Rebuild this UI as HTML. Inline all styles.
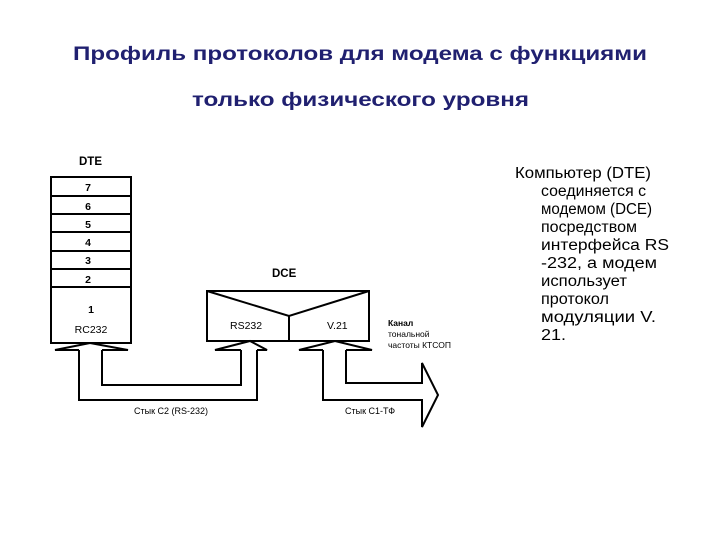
<!DOCTYPE html>
<html><head><meta charset="utf-8"><style>
html,body{margin:0;padding:0;background:#fff;}
svg{display:block}
</style></head><body>
<svg width="720" height="540" xmlns="http://www.w3.org/2000/svg" font-family="Liberation Sans, sans-serif">
<g fill="#202070" font-weight="bold" font-size="19">
<text x="73" y="60" textLength="574" lengthAdjust="spacingAndGlyphs">Профиль протоколов для модема с функциями</text>
<text x="192" y="106" textLength="337" lengthAdjust="spacingAndGlyphs">только физического уровня</text>
</g>
<g fill="#000" font-size="15.5">
<text x="515" y="178" textLength="136" lengthAdjust="spacingAndGlyphs">Компьютер (DTE)</text>
<text x="541" y="196" textLength="105" lengthAdjust="spacingAndGlyphs">соединяется с</text>
<text x="541" y="214" textLength="111" lengthAdjust="spacingAndGlyphs">модемом (DCE)</text>
<text x="541" y="232" textLength="96" lengthAdjust="spacingAndGlyphs">посредством</text>
<text x="541" y="250" textLength="128" lengthAdjust="spacingAndGlyphs">интерфейса RS</text>
<text x="541" y="268" textLength="116" lengthAdjust="spacingAndGlyphs">-232, а модем</text>
<text x="541" y="286" textLength="86" lengthAdjust="spacingAndGlyphs">использует</text>
<text x="541" y="304" textLength="68" lengthAdjust="spacingAndGlyphs">протокол</text>
<text x="541" y="322" textLength="115" lengthAdjust="spacingAndGlyphs">модуляции V.</text>
<text x="541" y="340" textLength="25" lengthAdjust="spacingAndGlyphs">21.</text>
</g>
<g fill="none" stroke="#000" stroke-width="2">
<rect x="51" y="177" width="80" height="166"/>
<line x1="51" y1="196" x2="131" y2="196"/>
<line x1="51" y1="214" x2="131" y2="214"/>
<line x1="51" y1="232" x2="131" y2="232"/>
<line x1="51" y1="251" x2="131" y2="251"/>
<line x1="51" y1="269" x2="131" y2="269"/>
<line x1="51" y1="287" x2="131" y2="287"/>
<rect x="207" y="291" width="162" height="50"/>
<polyline points="207,291 289,316 369,291"/>
<line x1="289" y1="316" x2="289" y2="341"/>
<polyline points="79,350 55,350 90,343 128,350 102,350"/>
<polyline points="241,350 215,350 250,341 267,350 257,350"/>
<polyline points="323,350 299,350 335,341 372,350 346,350"/>
<polyline points="79,350 79,400 257,400 257,350"/>
<polyline points="102,350 102,385 241,385 241,350"/>
<polyline points="323,350 323,400 422,400 422,427 438,395 422,363 422,383 346,383 346,350"/>
</g>
<g fill="#000" font-weight="bold" font-size="10.5">
<text x="79" y="165" font-size="11.5">DTE</text>
<text x="88" y="191" text-anchor="middle">7</text>
<text x="88" y="210" text-anchor="middle">6</text>
<text x="88" y="228" text-anchor="middle">5</text>
<text x="88" y="246" text-anchor="middle">4</text>
<text x="88" y="264" text-anchor="middle">3</text>
<text x="88" y="283" text-anchor="middle">2</text>
<text x="91" y="313" text-anchor="middle">1</text>
<text x="91" y="333" text-anchor="middle" font-weight="normal">RC232</text>
<text x="272" y="277" font-size="11.5">DCE</text>
<text x="230" y="329" font-weight="normal">RS232</text>
<text x="327" y="329" font-weight="normal">V.21</text>
<text x="388" y="326" font-size="8.5">Канал</text>
<text x="388" y="337" font-size="8.5" font-weight="normal">тональной</text>
<text x="388" y="348" font-size="8.5" font-weight="normal">частоты КТСОП</text>
<text x="134" y="414" font-size="9" font-weight="normal">Стык С2 (RS-232)</text>
<text x="345" y="414" font-size="9" font-weight="normal">Стык С1-ТФ</text>
</g>
</svg>
</body></html>
